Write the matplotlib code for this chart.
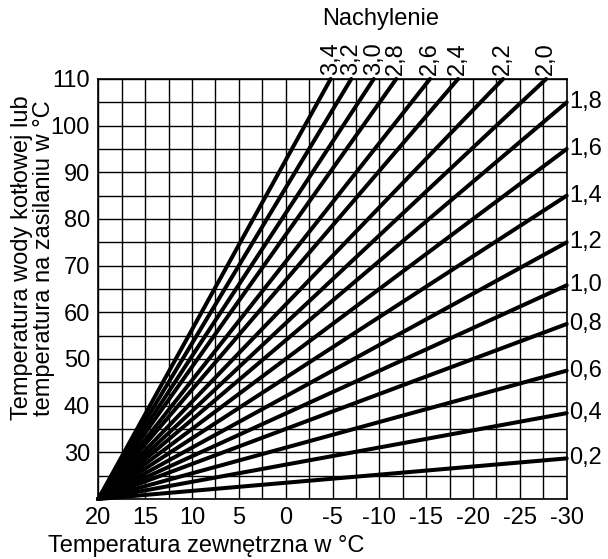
import matplotlib
matplotlib.use("Agg")
import matplotlib.pyplot as plt
import numpy as np

plt.rcParams['font.family'] = ['Liberation Sans', 'DejaVu Sans']

# Data
origin = (20, 20)
top_labels = ["3,4", "3,2", "3,0", "2,8", "2,6", "2,4", "2,2", "2,0"]
top_end_x = [-4.8, -7.0, -9.4, -11.8, -15.4, -18.4, -23.2, -27.8]
top_end_y = 110
right_labels = ["1,8", "1,6", "1,4", "1,2", "1,0", "0,8", "0,6", "0,4", "0,2"]
right_end_y = [105.0, 95.0, 85.0, 75.0, 65.8, 57.5, 47.5, 38.4, 28.7]
right_end_x = -30
x_ticks = [20, 15, 10, 5, 0, -5, -10, -15, -20, -25, -30]
y_ticks = [30, 40, 50, 60, 70, 80, 90, 100, 110]

FS = 17

fig = plt.figure(figsize=(6.08, 5.59), dpi=100)
ax = fig.add_axes([98.3 / 608, 1 - 499 / 559, (566.7 - 98.3) / 608, (499 - 79) / 559])
ax.set_xlim(20, -30)
ax.set_ylim(20, 110)

# grid
for gx in np.arange(20, -30.1, -2.5):
    ax.axvline(gx, color='black', lw=1.0, zorder=1)
for gy in np.arange(20, 110.1, 5):
    ax.axhline(gy, color='black', lw=1.0, zorder=1)

for sp in ax.spines.values():
    sp.set_linewidth(1.2)

lw = 2.9
for lab, ex in zip(top_labels, top_end_x):
    ax.plot([origin[0], ex], [origin[1], top_end_y], color='black', lw=lw,
            solid_capstyle='round', zorder=3, clip_on=False)
    ax.text(ex, top_end_y + 0.8, lab, rotation=90, ha='center', va='bottom',
            fontsize=FS)
for lab, ey in zip(right_labels, right_end_y):
    ax.plot([origin[0], right_end_x], [origin[1], ey], color='black', lw=lw,
            solid_capstyle='round', zorder=3, clip_on=False)
    ax.text(right_end_x - 0.3, ey, lab, ha='left', va='center', fontsize=FS)

ax.set_xticks(x_ticks)
ax.set_xticklabels([str(v) for v in x_ticks])
ax.set_yticks(y_ticks)
ax.set_yticklabels([str(v) for v in y_ticks])
ax.tick_params(length=0, labelsize=FS, pad=6)

fig.text(381 / 608, 1 - 19 / 559, "Nachylenie", ha='center', va='center', fontsize=FS)
fig.text(206 / 608, 1 - 546 / 559, "Temperatura zewnętrzna w °C", ha='center',
         va='center', fontsize=FS)
fig.text(33 / 608, 1 - 258 / 559,
         "Temperatura wody kotłowej lub\ntemperatura na zasilaniu w °C",
         rotation=90, ha='center', va='center', fontsize=FS, linespacing=1.05)

fig.savefig("out.png", dpi=100)
